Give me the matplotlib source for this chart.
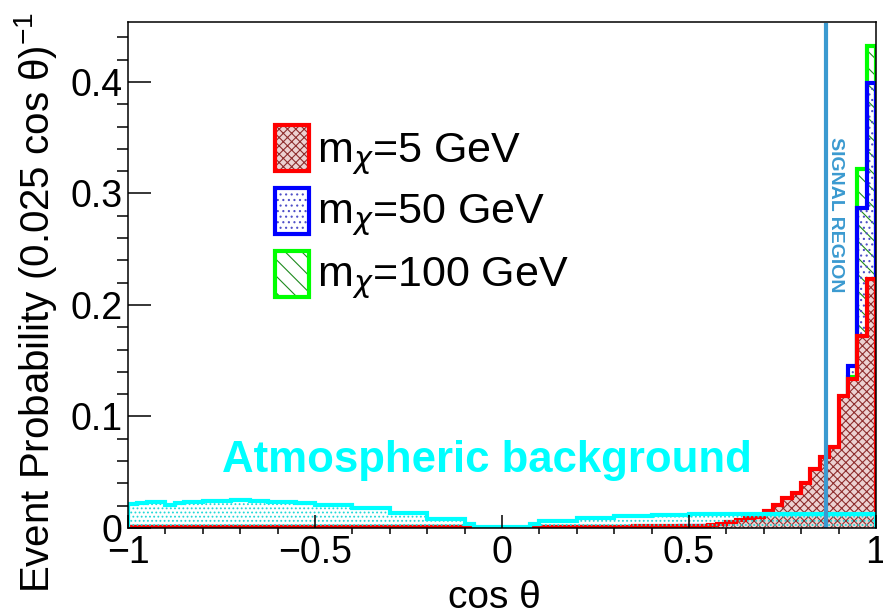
import numpy as np
import matplotlib.pyplot as plt
from matplotlib.patches import Rectangle
from matplotlib.ticker import MultipleLocator, FuncFormatter

plt.rcParams['font.family'] = ['Liberation Sans', 'DejaVu Sans']
plt.rcParams['mathtext.fontset'] = 'custom'
plt.rcParams['mathtext.rm'] = 'Liberation Sans'
plt.rcParams['mathtext.it'] = 'DejaVu Sans:italic'
plt.rcParams['mathtext.bf'] = 'Liberation Sans:bold'
plt.rcParams['hatch.linewidth'] = 0.8

# 80 bins of 0.025 in cos(theta), from -1 to 1
edges = np.linspace(-1, 1, 81)

# event probability per bin
red_5gev = [
    0.0013, 0.0013, 0.0012, 0.0013, 0.0012, 0.0012, 0.0013, 0.0012, 0.0012, 0.0012,
    0.0012, 0.0012, 0.0012, 0.0012, 0.0012, 0.0012, 0.0012, 0.0012, 0.0012, 0.0012,
    0.0012, 0.0012, 0.0012, 0.0012, 0.0012, 0.0012, 0.0012, 0.0012, 0.0012, 0.0012,
    0.0012, 0.0012, 0.0012, 0.0012, 0.0012, 0.0012, 0.0006, 0.0, 0.0, 0.0,
    0.0, 0.0, 0.0, 0.0006, 0.0012, 0.0012, 0.0012, 0.0012, 0.0012, 0.0012,
    0.0012, 0.0013, 0.0013, 0.0013, 0.0014, 0.0014, 0.0015, 0.0015, 0.0016, 0.0016,
    0.0018, 0.0022, 0.003, 0.004, 0.005, 0.007, 0.0087, 0.010, 0.015, 0.021,
    0.027, 0.031, 0.040, 0.053, 0.064, 0.073, 0.118, 0.134, 0.172, 0.223]

blue_50gev = [
    0.0008, 0.0008, 0.0008, 0.0008, 0.0008, 0.0008, 0.0008, 0.0008, 0.0008, 0.0008,
    0.0008, 0.0008, 0.0008, 0.0008, 0.0008, 0.0008, 0.0008, 0.0008, 0.0008, 0.0008,
    0.0008, 0.0008, 0.0008, 0.0008, 0.0008, 0.0008, 0.0008, 0.0008, 0.0008, 0.0008,
    0.0008, 0.0008, 0.0008, 0.0008, 0.0008, 0.0008, 0.0004, 0.0, 0.0, 0.0,
    0.0, 0.0, 0.0, 0.0004, 0.0008, 0.0008, 0.0008, 0.0008, 0.0008, 0.0009,
    0.0009, 0.0009, 0.0010, 0.0010, 0.0011, 0.0011, 0.0012, 0.0012, 0.0013, 0.0014,
    0.0015, 0.0018, 0.0020, 0.0025, 0.0030, 0.0030, 0.0035, 0.0040, 0.0040, 0.0045,
    0.005, 0.006, 0.009, 0.014, 0.022, 0.040, 0.067, 0.145, 0.287, 0.399]

green_100gev = [
    0.0006, 0.0006, 0.0006, 0.0006, 0.0006, 0.0006, 0.0006, 0.0006, 0.0006, 0.0006,
    0.0006, 0.0006, 0.0006, 0.0006, 0.0006, 0.0006, 0.0006, 0.0006, 0.0006, 0.0006,
    0.0006, 0.0006, 0.0006, 0.0006, 0.0006, 0.0006, 0.0006, 0.0006, 0.0006, 0.0006,
    0.0006, 0.0006, 0.0006, 0.0006, 0.0006, 0.0006, 0.0003, 0.0, 0.0, 0.0,
    0.0, 0.0, 0.0, 0.0003, 0.0006, 0.0006, 0.0006, 0.0006, 0.0006, 0.0006,
    0.0006, 0.0006, 0.0007, 0.0007, 0.0007, 0.0007, 0.0007, 0.0008, 0.0008, 0.0008,
    0.0008, 0.0009, 0.0010, 0.0011, 0.0012, 0.0014, 0.0016, 0.0018, 0.0020, 0.0025,
    0.003, 0.004, 0.006, 0.010, 0.020, 0.036, 0.062, 0.135, 0.322, 0.432]

atm_background = [
    0.0215, 0.0225, 0.023, 0.0235, 0.021, 0.0225, 0.023, 0.023, 0.024, 0.024,
    0.0245, 0.025, 0.025, 0.0245, 0.024, 0.0235, 0.023, 0.023, 0.0225, 0.022,
    0.0205, 0.0205, 0.0205, 0.0205, 0.018, 0.018, 0.018, 0.018, 0.0134, 0.0134,
    0.0134, 0.0134, 0.008, 0.008, 0.008, 0.008, 0.0036, 0.001, 0.0005, 0.0005,
    0.0005, 0.0005, 0.001, 0.004, 0.0065, 0.0065, 0.0065, 0.0065, 0.009, 0.009,
    0.009, 0.009, 0.0105, 0.0105, 0.0105, 0.0105, 0.012, 0.012, 0.012, 0.012,
    0.0125, 0.0125, 0.0125, 0.0125, 0.0125, 0.0125, 0.0125, 0.0125, 0.0125, 0.0125,
    0.0125, 0.0125, 0.0125, 0.0125, 0.0125, 0.0125, 0.0125, 0.0125, 0.0125, 0.0125]

legend_labels = [r'm$_{\chi}$=5 GeV', r'm$_{\chi}$=50 GeV', r'm$_{\chi}$=100 GeV']
signal_cut = 0.866  # cos(30 deg)

# (line colour, hatch, hatch colour, face colour)
sty_red = ('#ff0000', 'xxxx', '#8e2e2e', '#ecd2d2')
sty_blue = ('#0000ff', '...', '#5050c8', 'none')
sty_green = ('#00ff00', '\\\\', '#1e8a1e', 'none')
sty_cyan = ('#00ffff', '....', '#20d8d8', 'none')

fig = plt.figure(figsize=(8.83, 6.15), dpi=100)
ax = fig.add_axes([0.145, 0.1415, 0.847, 0.8225])


def draw_hist(vals, sty):
    col, hatch, hcol, face = sty
    ax.stairs(vals, edges, fill=True, facecolor=face, edgecolor=hcol,
              hatch=hatch, linewidth=0)
    ax.stairs(vals, edges, color=col, linewidth=3)


# same drawing order as the original: green, blue, red, then background
draw_hist(green_100gev, sty_green)
draw_hist(blue_50gev, sty_blue)
draw_hist(red_5gev, sty_red)
draw_hist(atm_background, sty_cyan)

ax.axvline(signal_cut, ymin=0, ymax=0.995, color='#3b9ad0', lw=3)
ax.text(0.9465, 0.62, 'SIGNAL REGION', transform=ax.transAxes, rotation=-90,
        ha='center', va='center', color='#3b9ad0', fontsize=14, fontweight='bold')

ax.text(0.48, 0.11, 'Atmospheric background', transform=ax.transAxes,
        ha='center', va='baseline', color='#00ffff', fontsize=31.5, fontweight='bold')

# legend drawn by hand, boxes + labels
box_y = [0.7055, 0.581, 0.4565]
text_y = [0.7233, 0.6028, 0.4783]
for sty, lab, by, ty in zip([sty_red, sty_blue, sty_green], legend_labels, box_y, text_y):
    col, hatch, hcol, face = sty
    ax.add_patch(Rectangle((0.1965, by), 0.0455, 0.0909, transform=ax.transAxes,
                           facecolor=face, edgecolor=hcol, hatch=hatch, lw=0))
    ax.add_patch(Rectangle((0.1965, by), 0.0455, 0.0909, transform=ax.transAxes,
                           fill=False, edgecolor=col, lw=3))
    ax.text(0.2527, ty, lab, transform=ax.transAxes, fontsize=31, va='baseline')

ax.set_xlim(-1, 1)
ax.set_ylim(0, 1.05 * max(green_100gev))

ax.xaxis.set_major_locator(MultipleLocator(0.5))
ax.xaxis.set_minor_locator(MultipleLocator(0.1))
ax.yaxis.set_major_locator(MultipleLocator(0.1))
ax.yaxis.set_minor_locator(MultipleLocator(0.02))
fmt = FuncFormatter(lambda v, p: f'{v:g}'.replace('-', '\u2212'))
ax.xaxis.set_major_formatter(fmt)
ax.yaxis.set_major_formatter(fmt)

ax.tick_params(direction='in', top=False, right=False, labelsize=27, width=1.1)
ax.tick_params(axis='y', which='major', length=16.5, pad=4)
ax.tick_params(axis='y', which='minor', length=8, width=1.1)
ax.tick_params(axis='x', which='major', length=9.5, pad=5)
ax.tick_params(axis='x', which='minor', length=4.5, width=1.1)
for s in ax.spines.values():
    s.set_linewidth(1.1)

ax.set_xlabel('cos \u03b8', fontsize=28)
ax.set_ylabel('Event Probability (0.025 cos \u03b8)$^{-1}$', fontsize=29)
ax.xaxis.set_label_coords(0.49, -0.103)
ax.yaxis.set_label_coords(-0.092, 0.445)

fig.savefig('out.png', dpi=100)
